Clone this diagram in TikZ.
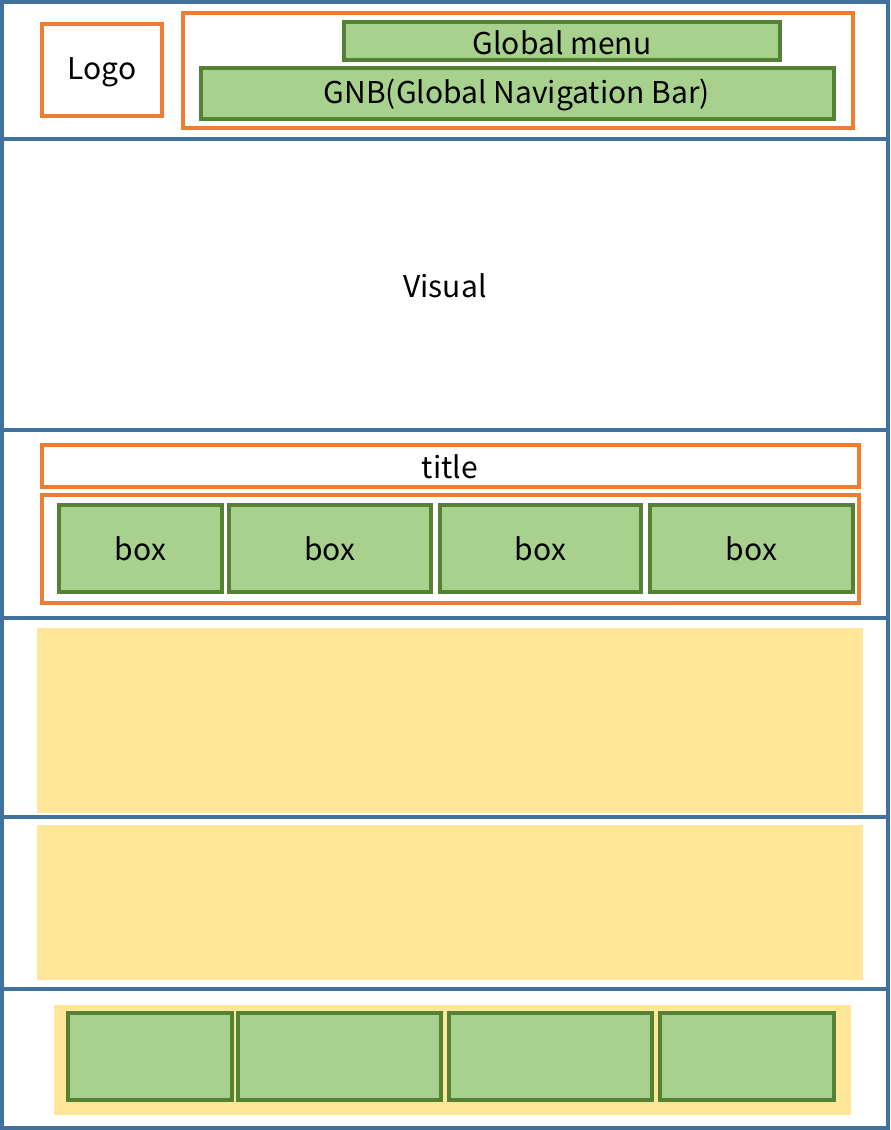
\documentclass[tikz,border=0pt]{standalone}
\usepackage{fontspec}
\setmainfont{Noto Sans CJK KR}
\definecolor{sec}{HTML}{41719C}
\definecolor{org}{HTML}{ED7D31}
\definecolor{grf}{HTML}{A9D18E}
\definecolor{grb}{HTML}{548235}
\definecolor{yel}{HTML}{FFE699}
\begin{document}
\begin{tikzpicture}[x=1pt,y=-1pt,
  sec/.style={draw=sec,line width=3.5pt},
  orb/.style={draw=org,line width=3.5pt},
  grb/.style={draw=grb,fill=grf,line width=3.5pt},
  yb/.style={fill=yel},
  lab/.style={font=\fontsize{30}{36}\selectfont}]
\useasboundingbox (0,0) rectangle (891,1130);
\fill[white] (0,0) rectangle (891,1130);
\foreach \a/\b in {2/139,139/430,430/618,618/817,817/989,989/1128}
  \draw[sec] (2,\a) rectangle (888,\b);
\draw[orb] (42,24) rectangle (162,116);
\node[lab] (logo) at (102,72) {Logo};
\draw[orb] (183,13) rectangle (853,128);
\draw[grb] (344,22) rectangle (780,60);
\node[lab] (gm) at (562,43) {Global menu};
\draw[grb] (201,68) rectangle (834,119);
\node[lab] (gnb) at (517,95) {GNB(Global Navigation Bar)};
\node[lab] (vis) at (445,286) {Visual};
\draw[orb] (42,445) rectangle (859,487);
\node[lab] (title) at (450,467) {title};
\draw[orb] (42,495) rectangle (859,603);
\foreach \l/\r [count=\i] in {59/222,229/431,440/641,650/853}{
  \draw[grb] (\l,505) rectangle (\r,592);
  \node[lab] (box\i) at ({(\l+\r)/2},549) {box};}
\fill[yb] (37,628) rectangle (863,813);
\fill[yb] (37,825) rectangle (863,980);
\fill[yb] (54,1005) rectangle (851,1115);
\foreach \l/\r in {68/232,238/441,449/652,660/834}
  \draw[grb] (\l,1013) rectangle (\r,1100);
\end{tikzpicture}
\end{document}
